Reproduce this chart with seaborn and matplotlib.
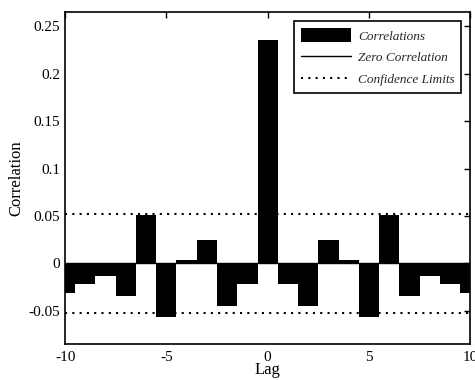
import numpy as np
import pandas as pd
import matplotlib
matplotlib.use('Agg')
import matplotlib.pyplot as plt
from matplotlib.ticker import FuncFormatter
import seaborn as sns

# Cross-correlation values
lags = list(range(-10, 11))
corr = [-0.031, -0.022, -0.013, -0.034, 0.051, -0.057, 0.0035, 0.0245, -0.045, -0.022,
        0.236,
        -0.022, -0.045, 0.0245, 0.0035, -0.057, 0.051, -0.034, -0.013, -0.022, -0.031]
conf_limit = 0.0524

sns.set_theme(style='white')
plt.rcParams['font.family'] = ['Liberation Serif', 'DejaVu Serif']
plt.rcParams['axes.unicode_minus'] = False

df = pd.DataFrame({'lag': lags, 'corr': corr})

fig = plt.figure(figsize=(4.75, 3.8), dpi=100)
ax = fig.add_axes([0.137, 0.095, 0.853, 0.873])

sns.barplot(data=df, x='lag', y='corr', native_scale=True, width=1.0,
            color='black', saturation=1, edgecolor='black', linewidth=0,
            ax=ax, label='Correlations')
ax.axhline(0, color='black', lw=1.0, label='Zero Correlation')
ax.axhline(conf_limit, color='black', lw=1.5, ls=(0, (1, 2.5)), label='Confidence Limits')
ax.axhline(-conf_limit, color='black', lw=1.5, ls=(0, (1, 2.5)))

ax.set_xlim(-10, 10)
ax.set_ylim(-0.085, 0.265)
ax.set_xticks([-10, -5, 0, 5, 10])
ax.set_yticks([-0.05, 0, 0.05, 0.1, 0.15, 0.2, 0.25])
ax.yaxis.set_major_formatter(FuncFormatter(lambda v, p: '%g' % round(v, 3)))
ax.tick_params(direction='in', length=4, width=1, top=True, right=True,
               labelsize=11, colors='black')
ax.tick_params(axis='x', pad=5)
for s in ax.spines.values():
    s.set_color('black')
    s.set_linewidth(1.2)
ax.set_xlabel('Lag', fontsize=12, labelpad=-1, color='black')
ax.set_ylabel('Correlation', fontsize=12, labelpad=3, color='black')

handles, labels = ax.get_legend_handles_labels()
order = [labels.index(l) for l in ['Correlations', 'Zero Correlation', 'Confidence Limits']]
leg = ax.legend([handles[i] for i in order], [labels[i] for i in order],
                loc='upper right', frameon=True, fancybox=False,
                edgecolor='black', framealpha=1, borderpad=0.5, handlelength=3.8,
                handleheight=1.3, labelspacing=0.55, handletextpad=0.5,
                borderaxespad=0.7, prop={'style': 'italic', 'size': 9.5})
leg.get_frame().set_linewidth(1.2)

fig.savefig('out.png', dpi=100)
